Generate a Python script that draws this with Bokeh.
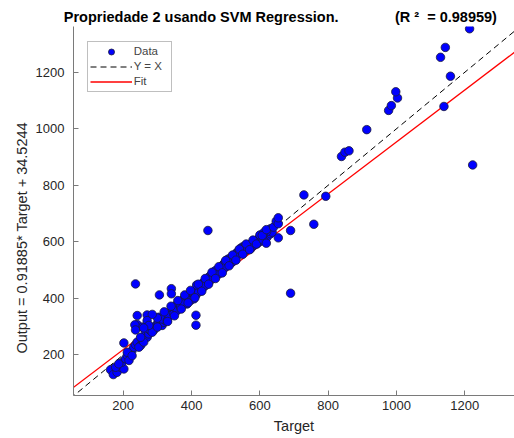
import numpy as np
from bokeh.plotting import figure
from bokeh.models import Range1d, FixedTicker, Legend, LegendItem, Title
from bokeh.embed import file_html
from bokeh.resources import INLINE

# ---- data (Target, Output) ----
band_target = [163, 171, 182, 192, 202, 197, 207, 212, 221, 226, 231, 236, 241, 251, 256, 260, 265, 270, 275, 280,
               285, 290, 295, 300, 304, 309, 314, 319, 324, 329, 339, 343, 348, 353, 358, 363, 368, 373, 378, 382,
               387, 392, 397, 402, 407, 412, 417, 421, 426, 431, 436, 441, 446, 451, 456, 461, 465, 470, 475, 480,
               485, 490, 495, 499, 504, 509, 514, 519, 524, 529, 534, 539, 543, 548, 553, 558, 563, 568, 573, 578,
               582, 587, 592, 597, 602, 607, 612, 617, 621, 626, 631]
band_output = [147, 130, 138, 156, 150, 174, 186, 197, 203, 215, 227, 236, 245, 233, 251, 262, 274, 262, 274, 286,
               298, 288, 300, 310, 315, 324, 304, 315, 321, 333, 345, 357, 363, 374, 369, 380, 386, 392, 398, 392,
               380, 404, 413, 422, 416, 428, 433, 439, 445, 451, 457, 463, 469, 475, 481, 486, 492, 481, 498, 504,
               510, 516, 522, 528, 536, 540, 534, 545, 551, 557, 563, 569, 575, 581, 583, 587, 575, 583, 590, 595,
               599, 602, 607, 610, 616, 622, 626, 630, 628, 640, 646]

band2_target = [178, 187, 217, 212, 226, 246, 260, 251, 275, 285, 300, 304, 314, 329, 334, 348, 358, 368, 378, 397,
                407, 412, 421, 431, 441, 451, 461, 470, 480, 490, 499, 509, 519, 529, 539, 548, 558, 573, 582, 592,
                602, 612, 621, 631, 636, 415]
band2_output = [156, 168, 180, 209, 197, 227, 245, 262, 292, 280, 298, 333, 327, 321, 339, 345, 357, 369, 380, 392,
                398, 410, 422, 433, 445, 457, 469, 498, 486, 498, 510, 522, 528, 540, 557, 563, 569, 575, 587, 593,
                602, 610, 616, 628, 634, 447]

band3_target = [300, 320, 330, 340, 350, 360, 370, 380, 390, 397, 410, 420, 430, 440, 450, 460, 470, 480, 490, 500,
                510, 520, 530, 540, 550, 560, 570, 580, 590, 600, 610, 620]
band3_output = [330, 352, 318, 372, 338, 392, 362, 412, 384, 428, 402, 450, 425, 470, 450, 492, 470, 512, 490, 534,
                515, 553, 535, 574, 556, 592, 572, 606, 592, 624, 606, 636]

low_outlier_target = [236, 306, 341, 341, 241, 241, 270, 285, 270, 275, 256, 234, 236, 260, 202, 448, 413, 413]
low_outlier_output = [451, 412, 434, 416, 339, 307, 341, 343, 321, 304, 298, 306, 288, 295, 242, 640, 340, 305]

high_target = [611, 607, 619, 619, 640, 648, 654, 654, 654, 690, 690, 729, 793, 758, 839, 849, 861, 913, 977, 985,
               1003, 998, 1139, 1129, 1143, 1158, 1214, 1223]
high_output = [632, 622, 643, 595, 652, 673, 664, 685, 614, 640, 418, 766, 761, 662, 902, 917, 922, 997, 1065, 1082,
               1109, 1131, 1079, 1253, 1288, 1186, 1354, 872]

target = band_target + band2_target + band3_target + low_outlier_target + high_target
output = band_output + band2_output + band3_output + low_outlier_output + high_output

fit_slope = 0.91885
fit_intercept = 34.5244
r_squared = 0.98959
tick_values = [200, 400, 600, 800, 1000, 1200]

x_start, x_end = 54.5, 1345.5
y_start, y_end = 56.0, 1362.0

FONT = "Liberation Sans"
NB = "\u00a0"

p = figure(width=514, height=438, output_backend="svg", toolbar_location=None,
           x_range=Range1d(x_start, x_end), y_range=Range1d(y_start, y_end),
           min_border_left=73, min_border_right=0, min_border_top=26, min_border_bottom=43)
p.outline_line_color = None
p.grid.visible = False

for ax in (p.xaxis[0], p.yaxis[0]):
    ax.ticker = FixedTicker(ticks=tick_values)
    ax.axis_line_color = "#7a7a7a"
    ax.major_tick_line_color = "#7a7a7a"
    ax.major_tick_in = 5
    ax.major_tick_out = 0
    ax.minor_tick_line_color = None
    ax.major_label_text_font = FONT
    ax.major_label_text_font_size = "13px"
    ax.major_label_text_color = "#262626"
p.xaxis[0].major_label_standoff = 5
p.yaxis[0].major_label_standoff = 9

p.xaxis[0].axis_label = "Target"
p.xaxis[0].axis_label_text_font = FONT
p.xaxis[0].axis_label_text_font_size = "14.5px"
p.xaxis[0].axis_label_text_font_style = "normal"
p.xaxis[0].axis_label_text_color = "#262626"
p.xaxis[0].axis_label_standoff = 5

# lines
line_x = np.array([x_start - 100, x_end + 100])
l_id = p.line(line_x, line_x, line_color="black", line_width=1, line_dash="6 4")
l_fit = p.line(line_x, fit_slope * line_x + fit_intercept, line_color="#ff0000", line_width=1.3)

sc = p.scatter(target, output, size=8.5, marker="circle", fill_color="#0000ff",
               line_color="#1a1a3a", line_width=0.8)

legend = Legend(items=[LegendItem(label="Data", renderers=[sc]),
                       LegendItem(label="Y = X", renderers=[l_id]),
                       LegendItem(label="Fit", renderers=[l_fit])],
                location=(13.7, 303.3), padding=2, spacing=0, margin=0,
                glyph_width=42, glyph_height=15, label_height=15, label_width=35,
                label_standoff=2, label_text_font=FONT, label_text_font_size="11.5px",
                border_line_color="#808080", border_line_width=1,
                background_fill_color="white", background_fill_alpha=1)
p.add_layout(legend)

title_text = ("Propriedade 2 usando SVM Regression." + NB * 14 + "(R" + NB + "\u00b2" + NB * 2
              + "= %.5f)" % r_squared)
p.title = Title(text=title_text, align="left", offset=-9.7, vertical_align="bottom",
                text_font=FONT, text_font_size="14.5px", text_font_style="bold",
                text_color="black", standoff=4)

ylab = Title(text="Output = %.5f* Target + %.4f" % (fit_slope, fit_intercept),
             align="left", offset=42, vertical_align="middle",
             text_font=FONT, text_font_size="14.5px", text_font_style="normal",
             text_color="#262626", standoff=4)
p.add_layout(ylab, "left")

open("out.html", "w").write(file_html(p, INLINE))
